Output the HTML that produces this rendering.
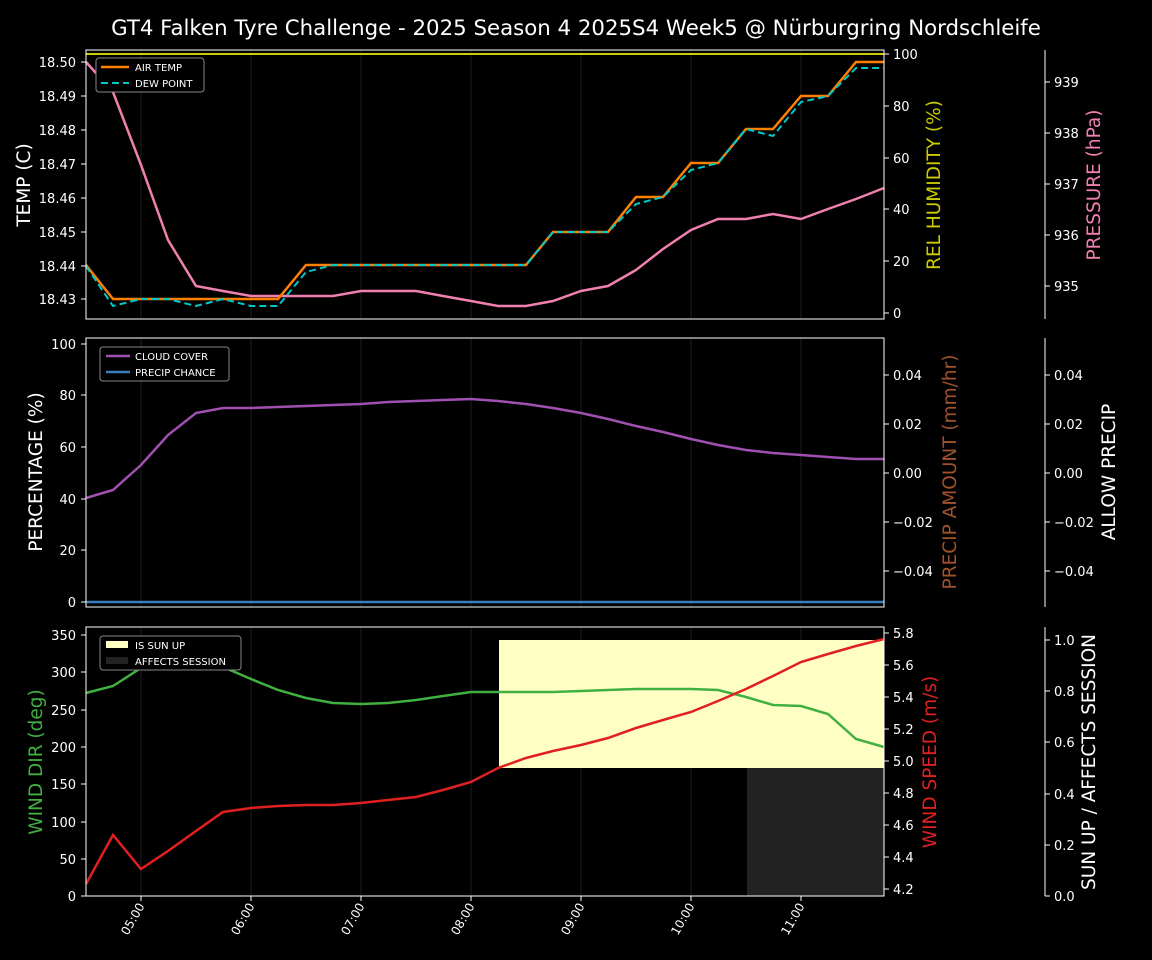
<!DOCTYPE html>
<html><head><meta charset="utf-8"><style>
body{margin:0;background:#000;}
svg{display:block;font-family:"DejaVu Sans","Liberation Sans",sans-serif;}
</style></head><body>
<svg width="1152" height="960" viewBox="0 0 1152 960">
<rect width="1152" height="960" fill="#000"/>
<text x="576" y="35" fill="#fff" font-size="21.3" text-anchor="middle">GT4 Falken Tyre Challenge - 2025 Season 4 2025S4 Week5 @ Nürburgring Nordschleife</text>
<g stroke="#333" stroke-width="1" opacity="0.6">
<path d="M141 50V319M251 50V319M361 50V319M471 50V319M581 50V319M691 50V319M801 50V319"/>
<path d="M141 338V607M251 338V607M361 338V607M471 338V607M581 338V607M691 338V607M801 338V607"/>
<path d="M141 627V896M251 627V896M361 627V896M471 627V896M581 627V896M691 627V896M801 627V896"/>
</g>
<!-- Panel 1 -->
<line x1="86" y1="54" x2="884" y2="54" stroke="#cccc00" stroke-width="2"/>
<polyline fill="none" stroke="#f080b0" stroke-width="2.5" points="86,62 113,92 141,165 168,240 196,286 223,291 251,296 278,296 306,296 333,296 361,291 388,291 416,291 443,296 471,301 498,306 526,306 553,301 581,291 608,286 636,270 663,249 691,230 718,219 746,219 773,214 801,219 828,209 856,199 884,188"/>
<polyline fill="none" stroke="#ff8000" stroke-width="2.5" points="86,265 113,299 141,299 168,299 196,299 223,299 251,299 278,299 306,265 333,265 361,265 388,265 416,265 443,265 471,265 498,265 526,265 553,232 581,232 608,232 636,197 663,197 691,163 718,163 746,129 773,129 801,96 828,96 856,62 884,62"/>
<polyline fill="none" stroke="#00c8c8" stroke-width="2" stroke-dasharray="7,4" points="86,266 113,306 141,299 168,299 196,306 223,299 251,306 278,306 306,272 333,265 361,265 388,265 416,265 443,265 471,265 498,265 526,265 553,232 581,232 608,232 636,204 663,197 691,170 718,163 746,129 773,136 801,102 828,96 856,68 884,68"/>
<rect x="86" y="50" width="798" height="269" fill="none" stroke="#fff" stroke-width="1"/>
<line x1="1045" y1="50" x2="1045" y2="319" stroke="#fff"/>
<g fill="#fff" font-size="13" text-anchor="end">
<text x="76" y="67">18.50</text><text x="76" y="101">18.49</text><text x="76" y="135">18.48</text><text x="76" y="169">18.47</text><text x="76" y="203">18.46</text><text x="76" y="237">18.45</text><text x="76" y="271">18.44</text><text x="76" y="304">18.43</text>
</g>
<g stroke="#fff"><path d="M81 62H86M81 96H86M81 130H86M81 164H86M81 198H86M81 232H86M81 266H86M81 299H86"/>
<path d="M884 54H889M884 106H889M884 158H889M884 209H889M884 261H889M884 313H889"/>
<path d="M1045 82H1050M1045 133H1050M1045 184H1050M1045 235H1050M1045 286H1050"/></g>
<g fill="#fff" font-size="13">
<text x="893" y="59">100</text><text x="893" y="111">80</text><text x="893" y="163">60</text><text x="893" y="214">40</text><text x="893" y="266">20</text><text x="893" y="318">0</text>
<text x="1054" y="87">939</text><text x="1054" y="138">938</text><text x="1054" y="189">937</text><text x="1054" y="240">936</text><text x="1054" y="291">935</text>
</g>
<text transform="translate(30,185) rotate(-90)" fill="#fff" font-size="18.5" text-anchor="middle">TEMP (C)</text>
<text transform="translate(940,185) rotate(-90)" fill="#cccc00" font-size="18.5" text-anchor="middle">REL HUMIDITY (%)</text>
<text transform="translate(1100,185) rotate(-90)" fill="#f080b0" font-size="18.5" text-anchor="middle">PRESSURE (hPa)</text>
<rect x="96" y="58" width="108" height="34" rx="3" fill="#000" stroke="#888"/>
<line x1="101" y1="67" x2="129" y2="67" stroke="#ff8000" stroke-width="2.5"/>
<line x1="101" y1="83" x2="129" y2="83" stroke="#00c8c8" stroke-width="2" stroke-dasharray="7,4"/>
<g fill="#fff" font-size="10"><text x="135" y="71">AIR TEMP</text><text x="135" y="87">DEW POINT</text></g>
<!-- Panel 2 -->
<line x1="86" y1="602" x2="884" y2="602" stroke="#3a7dc0" stroke-width="2.5"/>
<polyline fill="none" stroke="#a050b0" stroke-width="2.5" points="86,498 113,490 141,465 168,435 196,413 223,408 251,408 278,407 306,406 333,405 361,404 388,402 416,401 443,400 471,399 498,401 526,404 553,408 581,413 608,419 636,426 663,432 691,439 718,445 746,450 773,453 801,455 828,457 856,459 884,459"/>
<rect x="86" y="338" width="798" height="269" fill="none" stroke="#fff"/>
<line x1="1045" y1="338" x2="1045" y2="607" stroke="#fff"/>
<g stroke="#fff"><path d="M81 344H86M81 395H86M81 447H86M81 499H86M81 550H86M81 602H86"/>
<path d="M884 375H889M884 424H889M884 473H889M884 522H889M884 571H889"/>
<path d="M1045 375H1050M1045 424H1050M1045 473H1050M1045 522H1050M1045 571H1050"/></g>
<g fill="#fff" font-size="13" text-anchor="end">
<text x="76" y="349">100</text><text x="76" y="400">80</text><text x="76" y="452">60</text><text x="76" y="504">40</text><text x="76" y="555">20</text><text x="76" y="607">0</text></g>
<g fill="#fff" font-size="13">
<text x="893" y="380">0.04</text><text x="893" y="429">0.02</text><text x="893" y="478">0.00</text><text x="893" y="527">−0.02</text><text x="893" y="576">−0.04</text>
<text x="1054" y="380">0.04</text><text x="1054" y="429">0.02</text><text x="1054" y="478">0.00</text><text x="1054" y="527">−0.02</text><text x="1054" y="576">−0.04</text></g>
<text transform="translate(42,472) rotate(-90)" fill="#fff" font-size="18.5" text-anchor="middle">PERCENTAGE (%)</text>
<text transform="translate(956,472) rotate(-90)" fill="#a0522d" font-size="18.5" text-anchor="middle">PRECIP AMOUNT (mm/hr)</text>
<text transform="translate(1115,472) rotate(-90)" fill="#fff" font-size="18.5" text-anchor="middle">ALLOW PRECIP</text>
<rect x="100" y="347" width="129" height="34" rx="3" fill="#000" stroke="#888"/>
<line x1="106" y1="356" x2="130" y2="356" stroke="#a050b0" stroke-width="2.5"/>
<line x1="106" y1="372" x2="130" y2="372" stroke="#3a7dc0" stroke-width="2.5"/>
<g fill="#fff" font-size="10"><text x="135" y="360">CLOUD COVER</text><text x="135" y="376">PRECIP CHANCE</text></g>
<!-- Panel 3 -->
<rect x="499" y="640" width="385" height="128" fill="#ffffc4"/>
<rect x="747" y="768" width="137" height="128" fill="#222"/>
<polyline fill="none" stroke="#40b040" stroke-width="2.5" points="86,693 113,686 141,668 168,664 196,664 223,667 251,679 278,690 306,698 333,703 361,704 388,703 416,700 443,696 471,692 498,692 526,692 553,692 581,691 608,690 636,689 663,689 691,689 718,690 746,697 773,705 801,706 828,714 856,739 884,747"/>
<polyline fill="none" stroke="#e02020" stroke-width="2.5" points="86,884 113,835 141,869 168,851 196,831 223,812 251,808 278,806 306,805 333,805 361,803 388,800 416,797 443,790 471,782 498,768 526,758 553,751 581,745 608,738 636,728 663,720 691,712 718,701 746,689 773,676 801,662 828,654 856,646 884,639"/>
<rect x="86" y="627" width="798" height="269" fill="none" stroke="#fff"/>
<line x1="1045" y1="627" x2="1045" y2="896" stroke="#fff"/>
<g stroke="#fff"><path d="M81 635H86M81 672H86M81 710H86M81 747H86M81 784H86M81 822H86M81 859H86M81 896H86"/>
<path d="M884 633H889M884 665H889M884 697H889M884 729H889M884 761H889M884 793H889M884 825H889M884 857H889M884 889H889"/>
<path d="M1045 640H1050M1045 691H1050M1045 742H1050M1045 794H1050M1045 845H1050M1045 896H1050"/>
<path d="M141 896V901M251 896V901M361 896V901M471 896V901M581 896V901M691 896V901M801 896V901"/></g>
<g fill="#fff" font-size="13" text-anchor="end">
<text x="76" y="640">350</text><text x="76" y="677">300</text><text x="76" y="715">250</text><text x="76" y="752">200</text><text x="76" y="789">150</text><text x="76" y="827">100</text><text x="76" y="864">50</text><text x="76" y="901">0</text></g>
<g fill="#fff" font-size="13">
<text x="893" y="638">5.8</text><text x="893" y="670">5.6</text><text x="893" y="702">5.4</text><text x="893" y="734">5.2</text><text x="893" y="766">5.0</text><text x="893" y="798">4.8</text><text x="893" y="830">4.6</text><text x="893" y="862">4.4</text><text x="893" y="894">4.2</text>
<text x="1054" y="645">1.0</text><text x="1054" y="696">0.8</text><text x="1054" y="747">0.6</text><text x="1054" y="799">0.4</text><text x="1054" y="850">0.2</text><text x="1054" y="901">0.0</text></g>
<text transform="translate(42,762) rotate(-90)" fill="#40b040" font-size="18.5" text-anchor="middle">WIND DIR (deg)</text>
<text transform="translate(936,762) rotate(-90)" fill="#e02020" font-size="18.5" text-anchor="middle">WIND SPEED (m/s)</text>
<text transform="translate(1095,762) rotate(-90)" fill="#fff" font-size="18.5" text-anchor="middle">SUN UP / AFFECTS SESSION</text>
<rect x="100" y="636" width="141" height="34" rx="3" fill="#000" stroke="#888"/>
<rect x="106" y="641" width="22" height="7" fill="#ffffc4"/>
<rect x="106" y="657" width="22" height="7" fill="#222"/>
<g fill="#fff" font-size="10"><text x="135" y="649">IS SUN UP</text><text x="135" y="665">AFFECTS SESSION</text></g>
<g fill="#fff" font-size="12" text-anchor="end">
<text transform="translate(145,906) rotate(-60)">05:00</text>
<text transform="translate(255,906) rotate(-60)">06:00</text>
<text transform="translate(365,906) rotate(-60)">07:00</text>
<text transform="translate(475,906) rotate(-60)">08:00</text>
<text transform="translate(585,906) rotate(-60)">09:00</text>
<text transform="translate(695,906) rotate(-60)">10:00</text>
<text transform="translate(805,906) rotate(-60)">11:00</text>
</g>
</svg>
</body></html>
